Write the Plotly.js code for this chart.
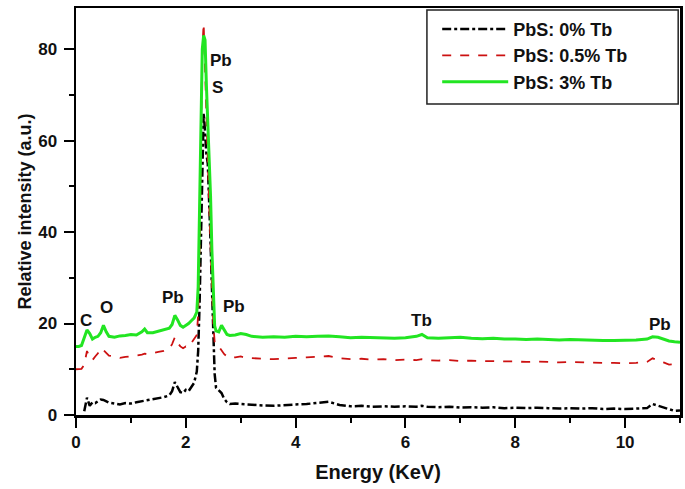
<!DOCTYPE html>
<html><head><meta charset="utf-8">
<script src="https://cdn.plot.ly/plotly-3.0.1.min.js"></script>
<style>html,body{margin:0;padding:0;background:#fff}#chart{width:685px;height:489px}</style>
</head><body><div id="chart"></div>
<script>
const energy = [0,0.05,0.1,0.15,0.2,0.25,0.3,0.35,0.4,0.45,0.5,0.55,0.6,0.7,0.8,0.9,1.0,1.1,1.2,1.25,1.3,1.4,1.5,1.6,1.7,1.75,1.8,1.85,1.9,1.95,2.0,2.05,2.1,2.15,2.2,2.225,2.25,2.275,2.3,2.325,2.35,2.375,2.4,2.425,2.45,2.475,2.5,2.525,2.55,2.6,2.65,2.7,2.75,2.8,2.9,3.0,3.1,3.2,3.4,3.6,3.8,4.0,4.2,4.4,4.6,4.8,5.0,5.2,5.4,5.6,5.8,6.0,6.2,6.3,6.4,6.6,6.8,7.0,7.2,7.4,7.6,7.8,8.0,8.2,8.4,8.6,8.8,9.0,9.2,9.4,9.6,9.8,10.0,10.2,10.4,10.5,10.6,10.7,10.8,10.9,11.0];

const pbs0 = [null,null,null,0.8,3.8,2.0,2.8,2.6,3.0,3.4,3.3,3.0,2.7,2.5,2.3,2.6,2.5,2.8,3.0,3.1,3.2,3.4,3.6,3.9,4.3,5.2,7.2,6.2,5.0,4.8,5.5,5.2,6.2,7.0,9.5,14,24,40,58,66,62,57,55,48,38,28,17,9,6.0,5.3,4.8,3.5,2.8,2.4,2.5,2.4,2.3,2.2,2.1,2.0,2.2,2.3,2.4,2.6,2.9,2.2,1.9,2.0,1.8,1.9,1.8,1.9,1.8,2.0,1.8,1.7,1.8,1.6,1.7,1.6,1.7,1.5,1.6,1.5,1.6,1.5,1.4,1.5,1.4,1.5,1.3,1.4,1.3,1.4,1.5,2.4,2.0,1.6,1.2,0.9,1.0];

const pbs05 = [10.0,10.0,10.1,11.0,14.0,12.5,12.0,12.8,13.5,14.6,14.2,13.6,13.0,12.8,12.5,12.7,12.8,13.0,13.2,13.4,13.3,13.6,13.8,14.0,14.5,15.5,17.0,15.8,15.0,14.6,15.0,14.8,15.8,16.5,17.5,22,35,60,80,85.6,74,64,56,46,36,27,20,16,15.2,15.0,14.2,13.3,12.8,12.5,12.6,12.8,12.5,12.4,12.3,12.2,12.4,12.5,12.6,12.7,12.9,12.4,12.2,12.3,12.1,12.2,12.0,12.1,12.0,12.2,12.0,11.9,12.0,11.8,11.9,11.8,11.8,11.7,11.7,11.6,11.7,11.6,11.5,11.6,11.5,11.5,11.4,11.4,11.3,11.4,11.6,12.4,12.0,11.5,11.0,11.1,11.2];

const pbs3 = [15.0,15.0,15.2,17.0,18.6,17.8,16.6,17.0,17.2,18.0,19.6,18.2,17.2,17.0,17.3,17.4,17.6,17.5,18.2,18.8,18.0,18.0,18.3,18.6,19.0,19.8,21.8,20.8,19.6,19.2,19.6,20.0,20.6,21.2,22.5,28,45,66,80,83,82,72,64,57,48,36,25,19.5,18.4,18.2,19.6,18.6,17.6,17.4,17.5,17.8,17.6,17.2,17.0,17.1,17.0,17.2,17.1,17.2,17.3,17.1,16.9,17.0,16.9,16.9,16.8,16.9,17.2,17.6,16.9,16.8,16.9,17.0,16.8,16.7,16.8,16.6,16.6,16.5,16.6,16.5,16.4,16.5,16.4,16.4,16.3,16.3,16.3,16.4,16.6,17.1,17.0,16.6,16.2,16.0,15.9];

const seriesNames = ['PbS: 0% Tb','PbS: 0.5% Tb','PbS: 3% Tb'];

const peakLabels = ['C','O','Pb','Pb','S','Pb','Tb','Pb'];
const peakX = [0.18,0.55,1.76,2.64,2.57,2.88,6.29,10.64];
const peakY = [20.7,23.4,25.8,77.5,71.6,23.8,20.7,19.7];

const font = {family:'Arial, Liberation Sans, sans-serif', color:'#111'};

const traces = [
  {x:energy, y:pbs0, name:seriesNames[0], mode:'lines', line:{color:'#000', width:2.5, dash:'dashdot'}},
  {x:energy, y:pbs05, name:seriesNames[1], mode:'lines', line:{color:'#cc1111', width:1.8, dash:'dash'}},
  {x:energy, y:pbs3, name:seriesNames[2], mode:'lines', line:{color:'#22e522', width:3}}
];

const annotations = peakLabels.map((t,i)=>({x:peakX[i], y:peakY[i], text:t, showarrow:false, xref:'x', yref:'y',
  font:{...font, size:17, weight:'bold'}}));

const layout = {
  width:685, height:489,
  margin:{l:76, r:5, t:8, b:74},
  paper_bgcolor:'#fff', plot_bgcolor:'#fff',
  showlegend:true,
  legend:{x:0.598, y:0.993, xanchor:'left', yanchor:'top', bgcolor:'rgba(0,0,0,0)', borderwidth:0,
    font:{...font, size:18, weight:'bold'}, itemwidth:66, tracegroupgap:0},
  shapes:[{type:'rect', xref:'paper', yref:'paper', x0:0.581, x1:0.997, y0:0.764, y1:0.995,
    line:{color:'#222', width:1.5}, fillcolor:'rgba(0,0,0,0)', layer:'above'}],
  xaxis:{range:[0,11], tickvals:[0,2,4,6,8,10], ticks:'outside', ticklen:10, tickwidth:2, tickcolor:'#000',
    minor:{dtick:1, tick0:0, ticks:'outside', ticklen:5, tickwidth:2, tickcolor:'#000'},
    showline:true, linecolor:'#000', linewidth:2.5, mirror:true, showgrid:false, zeroline:false,
    tickfont:{...font, size:17, weight:'bold'},
    title:{text:'Energy (KeV)', font:{...font, size:20, weight:'bold'}, standoff:14}},
  yaxis:{range:[0,89], tickvals:[0,20,40,60,80], ticks:'outside', ticklen:10, tickwidth:2, tickcolor:'#000',
    minor:{dtick:10, tick0:0, ticks:'outside', ticklen:5, tickwidth:2, tickcolor:'#000'},
    showline:true, linecolor:'#000', linewidth:2.5, mirror:true, showgrid:false, zeroline:false,
    tickfont:{...font, size:17, weight:'bold'}, ticklabelstandoff:3,
    title:{text:'Relative intensity (a.u.)', font:{...font, size:18, weight:'bold'}, standoff:2}},
  annotations:annotations
};

Plotly.newPlot('chart', traces, layout, {displayModeBar:false, staticPlot:true});
</script></body></html>
